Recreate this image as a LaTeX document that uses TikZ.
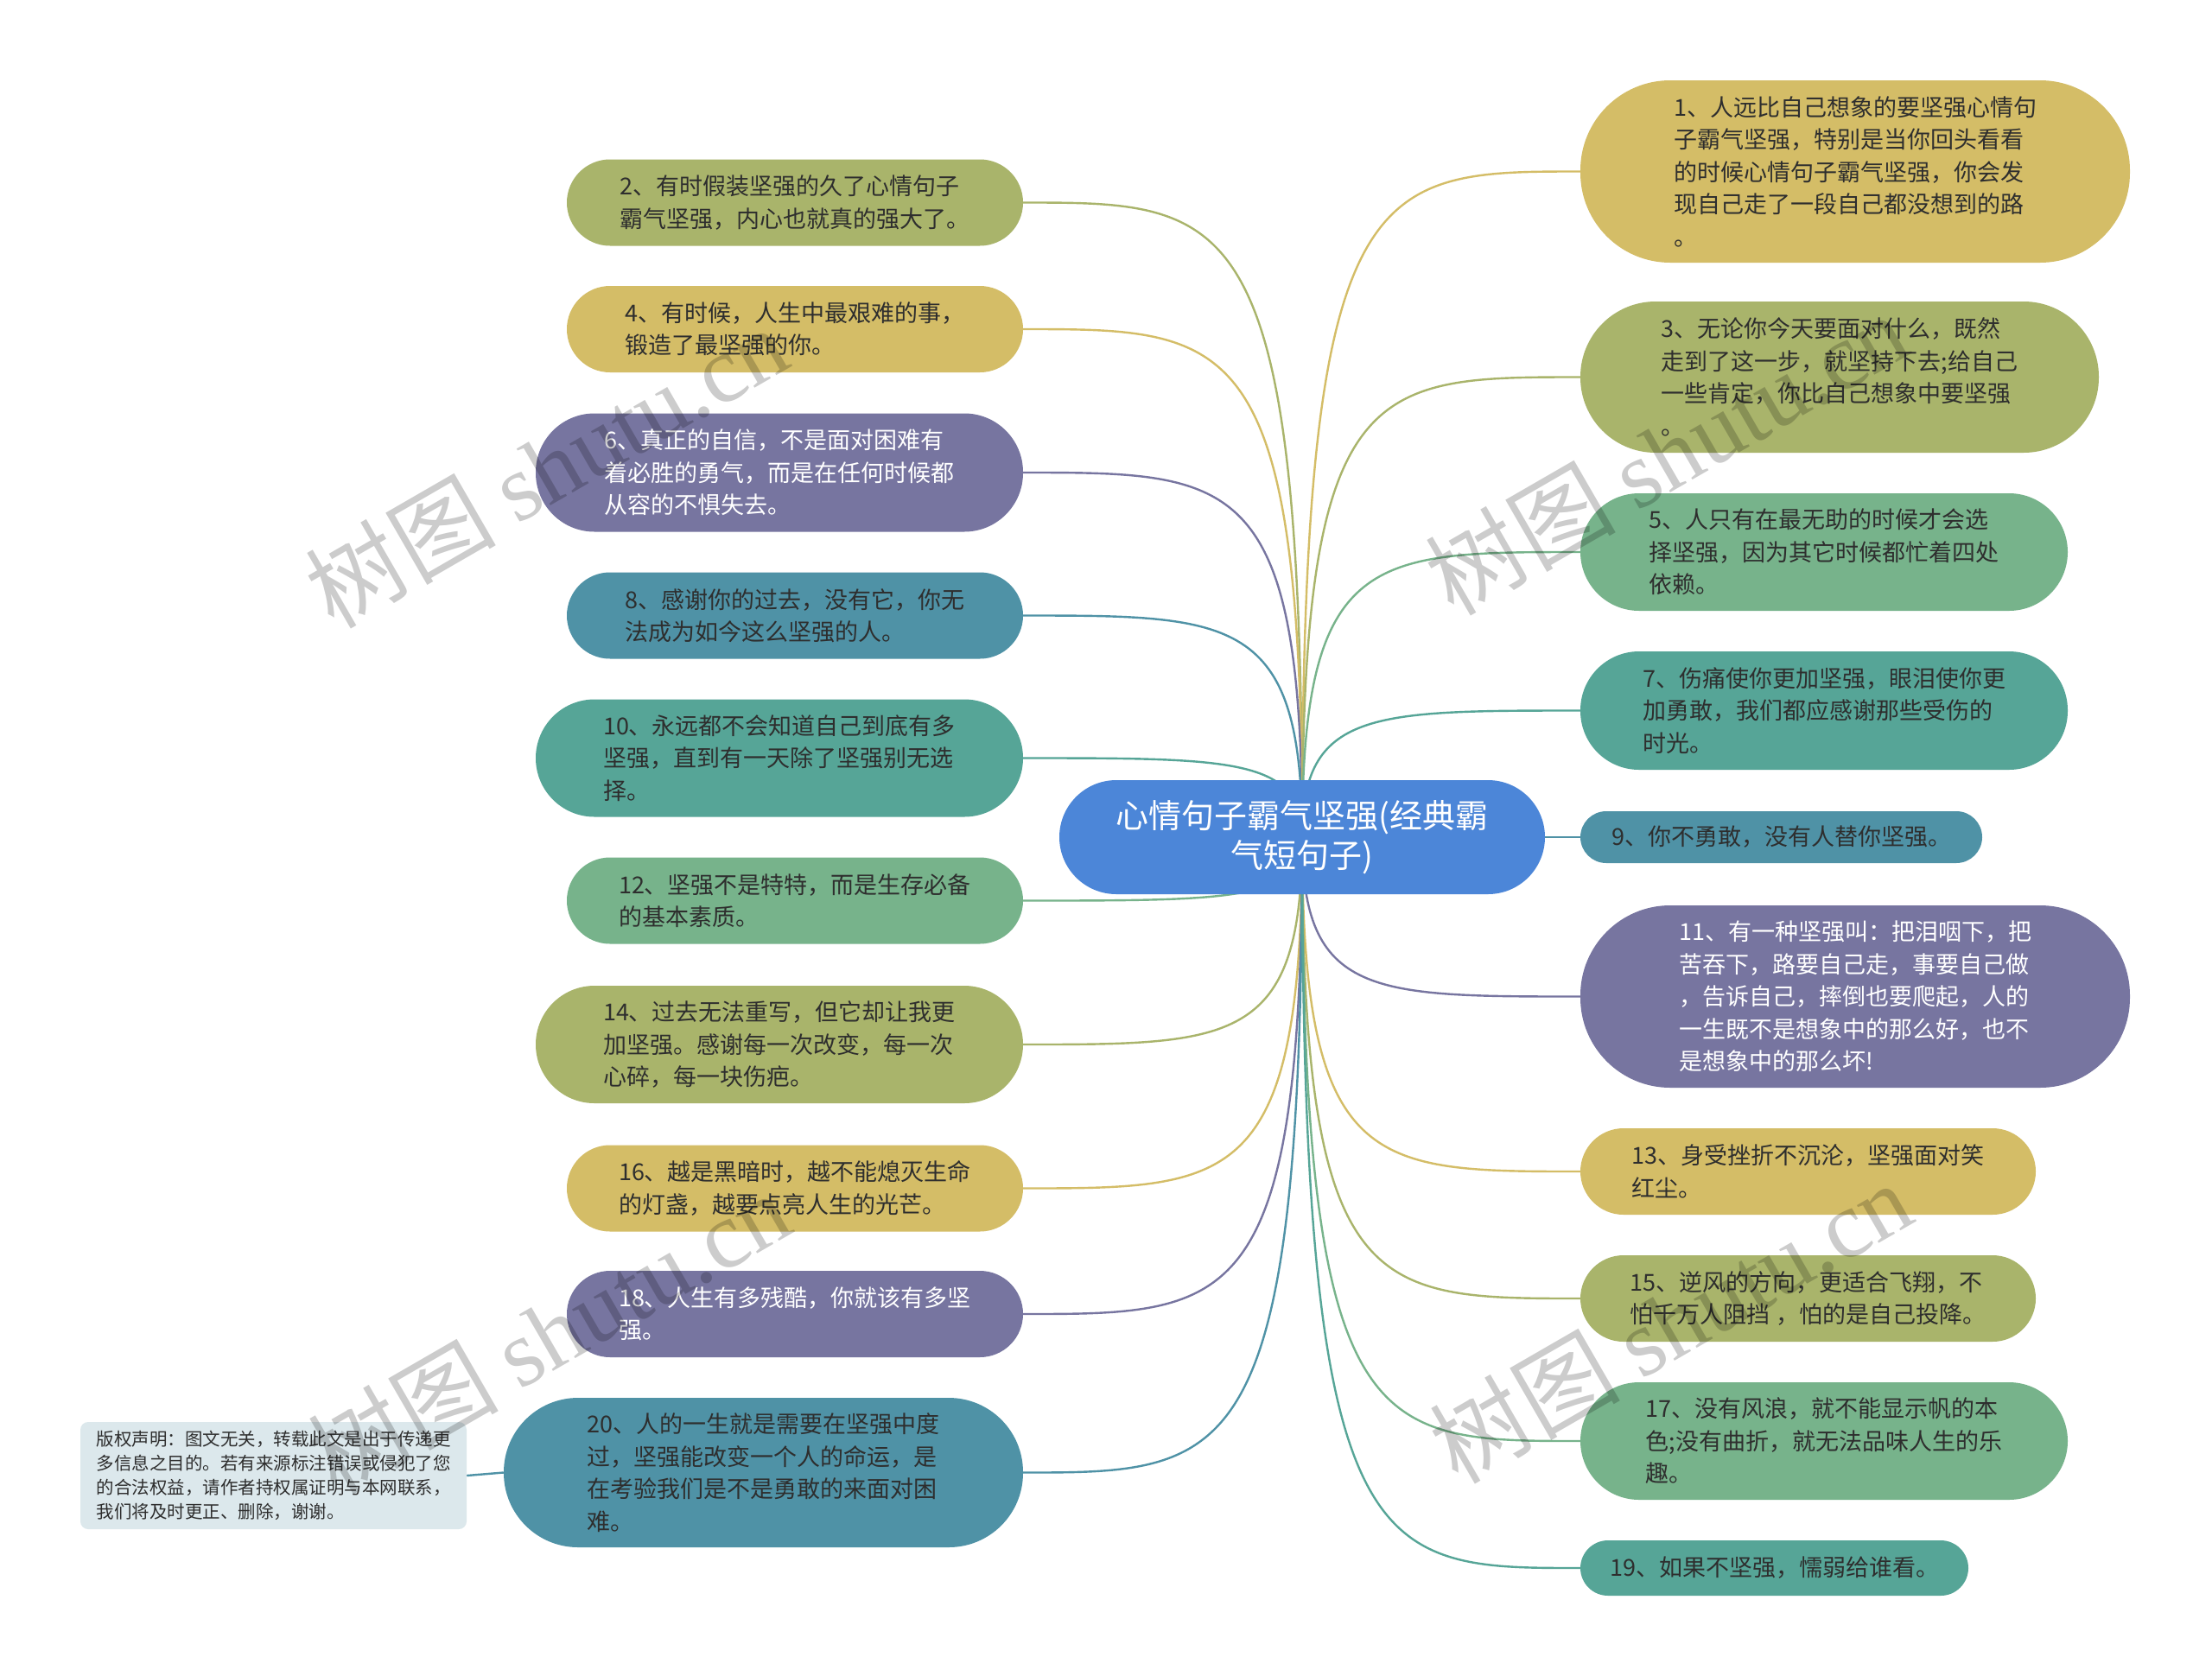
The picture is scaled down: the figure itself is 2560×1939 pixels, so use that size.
\documentclass[tikz,border=0pt]{standalone}
\usepackage{fontspec}
\setmainfont{Noto Sans CJK SC}
\newfontfamily\wmserif{Liberation Serif}
\usetikzlibrary{calc,backgrounds}
\definecolor{colive}{HTML}{A9B46B}
\definecolor{cyellow}{HTML}{D4BD67}
\definecolor{cpurple}{HTML}{7775A0}
\definecolor{cteal}{HTML}{4F92A6}
\definecolor{ctgreen}{HTML}{56A597}
\definecolor{cgreen}{HTML}{77B38B}
\definecolor{cblue}{HTML}{4C86D8}
\definecolor{ccopy}{HTML}{DCE8EC}
\definecolor{ctext}{HTML}{2E2E2E}
\begin{document}
\begin{tikzpicture}[x=1pt,y=-1pt,
  bub/.style={rectangle, align=left, inner sep=0pt, text=ctext,
    font=\fontsize{27pt}{37.5pt}\selectfont},
  conn/.style={line width=2.4pt},
  wm/.style={text=black, opacity=0.2, rotate=30, inner sep=0pt,
    font=\fontsize{110pt}{110pt}\selectfont}]
\useasboundingbox (0,0) rectangle (2560,1939);

% root
\node[bub, fill=cblue, text=white, align=center, minimum width=562pt, minimum height=132pt,
  rounded corners=66pt, font=\fontsize{38pt}{46pt}\selectfont] (root) at (1507,969)
  {心情句子霸气坚强(经典霸\\气短句子)};

% left
\node[bub, fill=colive, minimum width=528pt, minimum height=100pt, rounded corners=50pt] (n2) at (920,234.5)
  {2、有时假装坚强的久了心情句子\\霸气坚强，内心也就真的强大了。};
\node[bub, fill=cyellow, minimum width=528pt, minimum height=100pt, rounded corners=50pt] (n4) at (920,381)
  {4、有时候，人生中最艰难的事，\\锻造了最坚强的你。};
\node[bub, fill=cpurple, text=white, minimum width=564pt, minimum height=137pt, rounded corners=68pt] (n6) at (902,547)
  {6、真正的自信，不是面对困难有\\着必胜的勇气，而是在任何时候都\\从容的不惧失去。};
\node[bub, fill=cteal, minimum width=528pt, minimum height=100pt, rounded corners=50pt] (n8) at (920,712.5)
  {8、感谢你的过去，没有它，你无\\法成为如今这么坚强的人。};
\node[bub, fill=ctgreen, minimum width=564pt, minimum height=136pt, rounded corners=68pt] (n10) at (902,877.5)
  {10、永远都不会知道自己到底有多\\坚强，直到有一天除了坚强别无选\\择。};
\node[bub, fill=cgreen, minimum width=528pt, minimum height=100pt, rounded corners=50pt] (n12) at (920,1042.5)
  {12、坚强不是特特，而是生存必备\\的基本素质。};
\node[bub, fill=colive, minimum width=564pt, minimum height=136pt, rounded corners=68pt] (n14) at (902,1209)
  {14、过去无法重写，但它却让我更\\加坚强。感谢每一次改变，每一次\\心碎，每一块伤疤。};
\node[bub, fill=cyellow, minimum width=528pt, minimum height=100pt, rounded corners=50pt] (n16) at (920,1375.5)
  {16、越是黑暗时，越不能熄灭生命\\的灯盏，越要点亮人生的光芒。};
\node[bub, fill=cpurple, text=white, minimum width=528pt, minimum height=100pt, rounded corners=50pt] (n18) at (920,1521)
  {18、人生有多残酷，你就该有多坚\\强。};
\node[bub, fill=cteal, minimum width=601pt, minimum height=173pt, rounded corners=86pt] (n20) at (883.5,1704.5)
  {20、人的一生就是需要在坚强中度\\过，坚强能改变一个人的命运，是\\在考验我们是不是勇敢的来面对困\\难。};
\node[bub, fill=ccopy, minimum width=447pt, minimum height=124pt, rounded corners=9pt,
  font=\fontsize{20.5pt}{27.8pt}\selectfont] (cp) at (316.5,1708)
  {版权声明：图文无关，转载此文是出于传递更\\多信息之目的。若有来源标注错误或侵犯了您\\的合法权益，请作者持权属证明与本网联系，\\我们将及时更正、删除，谢谢。};

% right
\node[bub, fill=cyellow, minimum width=636pt, minimum height=211pt, rounded corners=104pt] (n1) at (2147,198.5)
  {1、人远比自己想象的要坚强心情句\\子霸气坚强，特别是当你回头看看\\的时候心情句子霸气坚强，你会发\\现自己走了一段自己都没想到的路\\。};
\node[bub, fill=colive, minimum width=600pt, minimum height=175pt, rounded corners=87pt] (n3) at (2129,436.5)
  {3、无论你今天要面对什么，既然\\走到了这一步，就坚持下去;给自己\\一些肯定，你比自己想象中要坚强\\。};
\node[bub, fill=cgreen, minimum width=564pt, minimum height=136pt, rounded corners=68pt] (n5) at (2111,639)
  {5、人只有在最无助的时候才会选\\择坚强，因为其它时候都忙着四处\\依赖。};
\node[bub, fill=ctgreen, minimum width=564pt, minimum height=137pt, rounded corners=68pt] (n7) at (2111,822.5)
  {7、伤痛使你更加坚强，眼泪使你更\\加勇敢，我们都应感谢那些受伤的\\时光。};
\node[bub, fill=cteal, minimum width=465pt, minimum height=60pt, rounded corners=30pt] (n9) at (2061.5,969)
  {9、你不勇敢，没有人替你坚强。};
\node[bub, fill=cpurple, text=white, minimum width=636pt, minimum height=211pt, rounded corners=104pt] (n11) at (2147,1153.5)
  {11、有一种坚强叫：把泪咽下，把\\苦吞下，路要自己走，事要自己做\\，告诉自己，摔倒也要爬起，人的\\一生既不是想象中的那么好，也不\\是想象中的那么坏!};
\node[bub, fill=cyellow, minimum width=527pt, minimum height=100pt, rounded corners=50pt] (n13) at (2092.5,1356)
  {13、身受挫折不沉沦，坚强面对笑\\红尘。};
\node[bub, fill=colive, minimum width=527pt, minimum height=100pt, rounded corners=50pt] (n15) at (2092.5,1503)
  {15、逆风的方向，更适合飞翔，不\\怕千万人阻挡 ，怕的是自己投降。};
\node[bub, fill=cgreen, minimum width=564pt, minimum height=136pt, rounded corners=68pt] (n17) at (2111,1668)
  {17、没有风浪，就不能显示帆的本\\色;没有曲折，就无法品味人生的乐\\趣。};
\node[bub, fill=ctgreen, minimum width=449pt, minimum height=64pt, rounded corners=32pt] (n19) at (2053.5,1815)
  {19、如果不坚强，懦弱给谁看。};

\begin{scope}[on background layer]
\fill[white] (0,0) rectangle (2560,1939);
\foreach \n/\c/\a in {n2/colive/east, n4/cyellow/east, n6/cpurple/east, n8/cteal/east,
  n10/ctgreen/east, n12/cgreen/east, n14/colive/east, n16/cyellow/east, n18/cpurple/east,
  n20/cteal/east, n1/cyellow/west, n3/colive/west, n5/cgreen/west, n7/ctgreen/west,
  n9/cteal/west, n11/cpurple/west, n13/cyellow/west, n15/colive/west, n17/cgreen/west,
  n19/ctgreen/west}
  \draw[conn, \c] (root.center) .. controls (root.center |- \n.\a) and ($(root.center |- \n.\a)!0.25!(\n.\a)$) .. (\n.\a);
\draw[conn, cteal] (n20.west) -- (cp.east);
\end{scope}

% watermarks
\node[wm] (wm1) at (632,540) {树图 {\wmserif shutu.cn}};
\node[wm] (wm2) at (635,1542) {树图 {\wmserif shutu.cn}};
\node[wm] (wm3) at (1928,525) {树图 {\wmserif shutu.cn}};
\node[wm] (wm4) at (1933,1530) {树图 {\wmserif shutu.cn}};
\end{tikzpicture}
\end{document}
